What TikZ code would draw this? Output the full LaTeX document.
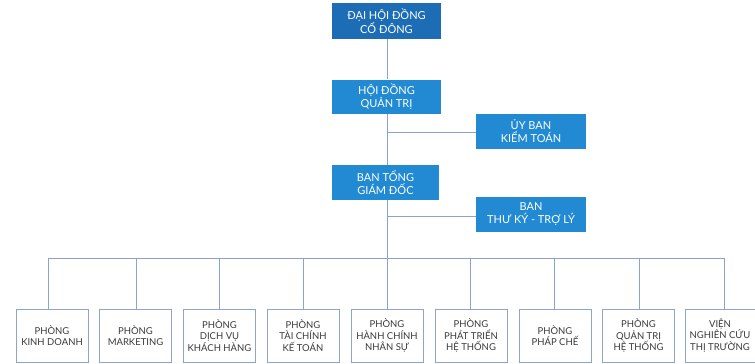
\documentclass[tikz,border=0pt]{standalone}
\usepackage{fontspec}
\setmainfont{Lato}
\begin{document}
\begin{tikzpicture}[x=1pt,y=-1pt,
  topbox/.style={draw=none,fill=topblue,text=white,align=center,inner sep=0pt,
    font=\fontsize{11}{13}\selectfont},
  bluebox/.style={draw=none,fill=midblue,text=white,align=center,inner sep=0pt,
    font=\fontsize{11}{13}\selectfont},
  deptbox/.style={draw=boxline,line width=0.9pt,fill=white,text=deptext,align=center,inner sep=0pt,
    minimum width=72pt,minimum height=53pt,font=\fontsize{9.5}{11.5}\selectfont},
  conn/.style={draw=connline,line width=0.9pt}]
\definecolor{topblue}{HTML}{1D6DB6}
\definecolor{midblue}{HTML}{218AD3}
\definecolor{boxline}{HTML}{8EA5C9}
\definecolor{connline}{HTML}{8AA3CC}
\definecolor{deptext}{HTML}{3A3A3A}
\useasboundingbox (0,0) rectangle (755,364);

\node[topbox,minimum width=109pt,minimum height=36pt] (dh) at (386.5,21) {ĐẠI HỘI ĐỒNG\\CỔ ĐÔNG};
\node[bluebox,minimum width=109pt,minimum height=34pt] (hd) at (386.5,96.5) {HỘI ĐỒNG\\QUẢN TRỊ};
\node[bluebox,minimum width=110pt,minimum height=35pt] (ub) at (531,131.5) {ỦY BAN\\KIỂM TOÁN};
\node[bluebox,minimum width=107pt,minimum height=35pt] (bt) at (385.5,182.5) {BAN TỔNG\\GIÁM ĐỐC};
\node[bluebox,minimum width=110pt,minimum height=35pt] (tk) at (531,214.5) {BAN\\THƯ KÝ - TRỢ LÝ};

\node[deptbox] (b1) at (52,335.5) {PHÒNG\\KINH DOANH};
\node[deptbox] (b2) at (135.5,335.5) {PHÒNG\\MARKETING};
\node[deptbox] (b3) at (219.5,335.5) {PHÒNG\\DỊCH VỤ\\KHÁCH HÀNG};
\node[deptbox] (b4) at (303,335.5) {PHÒNG\\TÀI CHÍNH\\KẾ TOÁN};
\node[deptbox] (b5) at (387,335.5) {PHÒNG\\HÀNH CHÍNH\\NHÂN SỰ};
\node[deptbox] (b6) at (471,335.5) {PHÒNG\\PHÁT TRIỂN\\HỆ THỐNG};
\node[deptbox] (b7) at (555,335.5) {PHÒNG\\PHÁP CHẾ};
\node[deptbox] (b8) at (638.5,335.5) {PHÒNG\\QUẢN TRỊ\\HỆ THỐNG};
\node[deptbox,minimum width=70pt] (b9) at (720,335.5) {VIỆN\\NGHIÊN CỨU\\THỊ TRƯỜNG};

\coordinate (j1) at (387,132);
\coordinate (j2) at (387,216);
\coordinate (t1) at (48,258);
\coordinate (t2) at (136,258);
\coordinate (t3) at (219,258);
\coordinate (t4) at (303,258);
\coordinate (t5) at (387,258);
\coordinate (t6) at (470,258);
\coordinate (t7) at (554,258);
\coordinate (t8) at (639,258);
\coordinate (t9) at (724,258);

\draw[conn] (dh.south -| j1) -- (hd.north -| j1);
\draw[conn] (hd.south -| j1) -- (bt.north -| j1);
\draw[conn] (j1) -- (ub.west |- j1);
\draw[conn] (bt.south -| j2) -- (t5);
\draw[conn] (j2) -- (tk.west |- j2);
\draw[conn] (t1) -- (t9);
\foreach \i in {1,...,9}{\draw[conn] (t\i) -- (t\i |- b\i.north);}
\end{tikzpicture}
\end{document}
